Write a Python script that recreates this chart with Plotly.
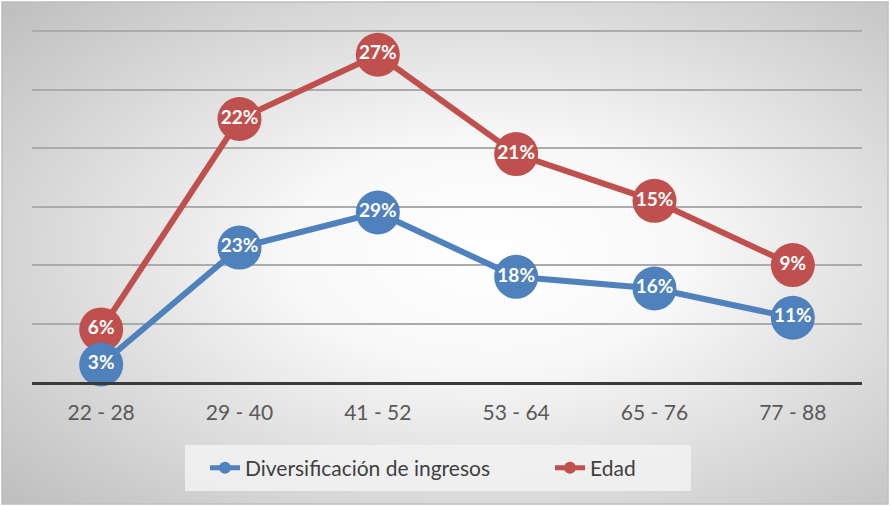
import plotly.graph_objects as go
import numpy as np
from urllib.parse import quote

categorias = ['22 - 28', '29 - 40', '41 - 52', '53 - 64', '65 - 76', '77 - 88']
diversificacion = [3, 23, 29, 18, 16, 11]
edad = [6, 22, 27, 21, 15, 9]

AZUL = '#4F81BD'
ROJO = '#C0504D'
W, H = 890, 506
ML, MR, MT, MB = 32, 28, 29, 124
pw = W - ML - MR
ph = H - MT - MB

# linea apilada, como en el grafico de Excel
apilado = np.array(diversificacion) + np.array(edad)

fondo = (
    f'<svg xmlns="http://www.w3.org/2000/svg" width="{W}" height="{H}">'
    '<defs><radialGradient id="g" cx="0.55" cy="0.5" r="0.75">'
    '<stop offset="0" stop-color="#ffffff"/><stop offset="0.3" stop-color="#f8f8f8"/>'
    '<stop offset="1" stop-color="#bdbdbd"/></radialGradient></defs>'
    f'<rect x="0" y="0" width="{W}" height="{H}" fill="#ffffff"/>'
    f'<rect x="2" y="2" width="{W-4}" height="{H-4}" fill="url(#g)" stroke="#bfbfbf" stroke-width="1.5"/>'
    '<rect x="185" y="445" width="506" height="46" fill="#f2f2f2" fill-opacity="0.85"/>'
    '</svg>'
)

fig = go.Figure()
# rojo primero para que los circulos azules queden encima
fig.add_trace(go.Scatter(
    x=categorias, y=apilado, name='Edad', legendrank=2,
    mode='lines+markers+text', text=[f'{v}%' for v in edad],
    textposition='middle center',
    textfont=dict(color='white', size=19, family='Lato', weight='bold'),
    line=dict(color=ROJO, width=6),
    marker=dict(color=ROJO, size=44),
    cliponaxis=False,
))
fig.add_trace(go.Scatter(
    x=categorias, y=diversificacion, name='Diversificación de ingresos', legendrank=1,
    mode='lines+markers+text', text=[f'{v}%' for v in diversificacion],
    textposition='middle center',
    textfont=dict(color='white', size=19, family='Lato', weight='bold'),
    line=dict(color=AZUL, width=6),
    marker=dict(color=AZUL, size=44),
    cliponaxis=False,
))

fig.add_layout_image(dict(
    source='data:image/svg+xml;charset=utf-8,' + quote(fondo),
    xref='paper', yref='paper', x=-ML / pw, y=1 + MT / ph,
    sizex=W / pw, sizey=H / ph, sizing='stretch', layer='below',
    xanchor='left', yanchor='top',
))

fig.update_layout(
    width=W, height=H,
    margin=dict(l=ML, r=MR, t=MT, b=MB, autoexpand=False),
    paper_bgcolor='white', plot_bgcolor='rgba(0,0,0,0)',
    font=dict(family='Lato', color='#404040'),
    showlegend=True,
    legend=dict(orientation='h', x=(205 - ML) / pw, xanchor='left', y=(MT + ph - 468) / ph,
                yanchor='middle', bgcolor='rgba(0,0,0,0)',
                font=dict(size=21, color='#404040'), itemsizing='constant',
                entrywidth=300, entrywidthmode='pixels'),
)
fig.update_xaxes(range=[-0.5, 5.5], showgrid=False, showline=True, linewidth=3,
                 linecolor='#3a3a3a', ticks='', tickfont=dict(size=21, color='#595959'),
                 ticklabelstandoff=10, zeroline=False)
fig.update_yaxes(range=[0, 60.4], dtick=10, showticklabels=False, showgrid=True,
                 gridcolor='#ababab', gridwidth=1.5, zeroline=False)

fig.write_html('out.html', config={'displayModeBar': False},
               post_script="document.body.style.margin='0px';")
